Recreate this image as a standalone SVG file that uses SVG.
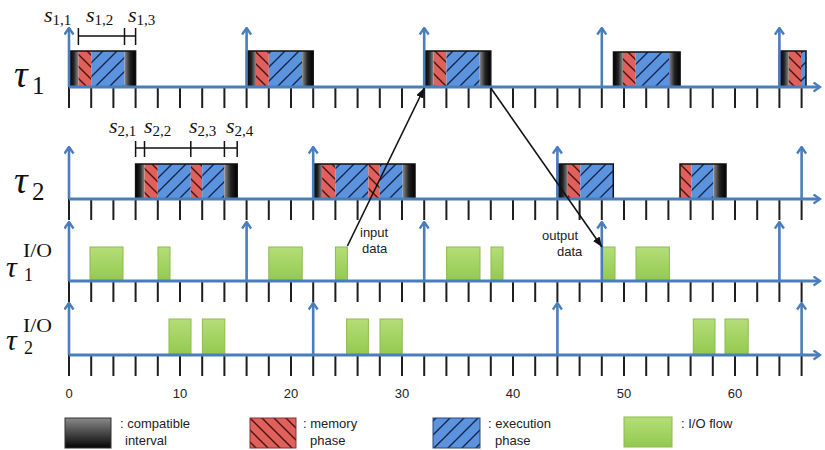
<svg xmlns="http://www.w3.org/2000/svg" width="825" height="450" viewBox="0 0 825 450">
<style>
.axis{stroke:#4a7ebb;stroke-width:3;fill:none}
.rel{stroke:#4a7ebb;stroke-width:2.6;fill:none}
.tk{stroke:#1e1e1e;stroke-width:2;fill:none}
.out{fill:none;stroke:#111;stroke-width:1.5}
.io{fill:url(#gG);stroke:#8cbc4c;stroke-width:1}
.lbl{font-family:"Liberation Sans",Arial,sans-serif;font-size:13px;fill:#222}
.num{font-family:"Liberation Sans",Arial,sans-serif;font-size:13px;fill:#222;text-anchor:middle}
.m{font-family:"Liberation Serif","Times New Roman",serif;fill:#111}
.it{font-style:italic}
.br{stroke:#111;stroke-width:1.5;fill:none}
.con{stroke:#111;stroke-width:1.6;fill:none}
</style>
<defs>
<linearGradient id="gBL" x1="0" y1="0" x2="1" y2="0"><stop offset="0" stop-color="#000"/><stop offset="0.5" stop-color="#222"/><stop offset="1" stop-color="#8a8a8a"/></linearGradient>
<linearGradient id="gBR" x1="0" y1="0" x2="1" y2="0"><stop offset="0" stop-color="#8a8a8a"/><stop offset="0.5" stop-color="#222"/><stop offset="1" stop-color="#000"/></linearGradient>
<linearGradient id="gBV" x1="0" y1="0" x2="0" y2="1"><stop offset="0" stop-color="#8a8a8a"/><stop offset="1" stop-color="#050505"/></linearGradient>
<linearGradient id="gG" x1="0" y1="0" x2="0" y2="1"><stop offset="0" stop-color="#b4de78"/><stop offset="1" stop-color="#93c94f"/></linearGradient>
<pattern id="pR" width="12" height="12" patternUnits="userSpaceOnUse">
<rect width="12" height="12" fill="#e0605c"/>
<path d="M0,0L12,12M-3,9L3,15M9,-3L15,3" stroke="#4a1212" stroke-width="1.4"/>
</pattern>
<pattern id="pB" width="14" height="14" patternUnits="userSpaceOnUse">
<rect width="14" height="14" fill="#5b93de"/>
<path d="M0,14L14,0M-3,3L3,-3M11,17L17,11" stroke="#15264a" stroke-width="1.4"/>
</pattern>
<marker id="ah" viewBox="-1 -1 9 11" refX="6.5" refY="4.5" markerWidth="9" markerHeight="11" markerUnits="userSpaceOnUse" orient="auto">
<path d="M0,0L6.5,4.5L0,9" fill="none" stroke="#4a7ebb" stroke-width="2.4"/>
</marker>
<marker id="bk" viewBox="0 0 10 8" refX="10" refY="4" markerWidth="10" markerHeight="8" markerUnits="userSpaceOnUse" orient="auto">
<path d="M0,0L10,4L0,8z" fill="#111"/>
</marker>
<path id="ticks" class="tk" d="M69,0v21M91.2,0v21M113.4,0v21M135.6,0v21M157.8,0v21M180,0v21M202.2,0v21M224.4,0v21M246.6,0v21M268.8,0v21M291,0v21M313.2,0v21M335.4,0v21M357.6,0v21M379.8,0v21M402,0v21M424.2,0v21M446.4,0v21M468.6,0v21M490.8,0v21M513,0v21M535.2,0v21M557.4,0v21M579.6,0v21M601.8,0v21M624,0v21M646.2,0v21M668.4,0v21M690.6,0v21M712.8,0v21M735,0v21M757.2,0v21M779.4,0v21M801.6,0v21"/>
</defs>
<rect width="825" height="450" fill="#fff"/>

<!-- Row tau1 -->
<g id="row-tau1">
<text class="m it" x="14" y="87" font-size="38">τ</text>
<text class="m" x="32" y="94" font-size="25">1</text>
<use href="#ticks" y="87"/>
<g id="t1-job1">
<rect x="69" y="51" width="9.4" height="36" fill="url(#gBL)"/>
<rect x="78.4" y="51" width="12.8" height="36" fill="url(#pR)"/>
<rect x="91.2" y="51" width="33.3" height="36" fill="url(#pB)"/>
<rect x="124.5" y="51" width="11.1" height="36" fill="url(#gBR)"/>
<rect class="out" x="69" y="51" width="66.6" height="36"/>
</g>
<g id="t1-job2">
<rect x="246.6" y="51" width="9.4" height="36" fill="url(#gBL)"/>
<rect x="256" y="51" width="12.8" height="36" fill="url(#pR)"/>
<rect x="268.8" y="51" width="33.3" height="36" fill="url(#pB)"/>
<rect x="302.1" y="51" width="11.1" height="36" fill="url(#gBR)"/>
<rect class="out" x="246.6" y="51" width="66.6" height="36"/>
</g>
<g id="t1-job3">
<rect x="424.2" y="51" width="9.4" height="36" fill="url(#gBL)"/>
<rect x="433.6" y="51" width="12.8" height="36" fill="url(#pR)"/>
<rect x="446.4" y="51" width="33.3" height="36" fill="url(#pB)"/>
<rect x="479.7" y="51" width="11.1" height="36" fill="url(#gBR)"/>
<rect class="out" x="424.2" y="51" width="66.6" height="36"/>
</g>
<g id="t1-job4">
<rect x="613.5" y="52" width="9.4" height="35" fill="url(#gBL)"/>
<rect x="622.9" y="52" width="12.8" height="35" fill="url(#pR)"/>
<rect x="635.7" y="52" width="33.3" height="35" fill="url(#pB)"/>
<rect x="669" y="52" width="11.1" height="35" fill="url(#gBR)"/>
<rect class="out" x="613.5" y="52" width="66.6" height="35"/>
</g>
<g id="t1-job5">
<rect x="779.4" y="51" width="9.4" height="36" fill="url(#gBL)"/>
<rect x="788.8" y="51" width="12.2" height="36" fill="url(#pR)"/>
<rect x="801" y="51" width="5" height="36" fill="url(#pB)"/>
<rect class="out" x="779.4" y="51" width="26.6" height="36"/>
</g>
<path class="axis" d="M69,87H820" marker-end="url(#ah)"/>
<path class="rel" d="M69,87V28M246.6,87V28M424.2,87V28M601.8,87V28M779.4,87V28" />
<path class="rel" d="M69,30V28" marker-end="url(#ah)"/>
<path class="rel" d="M246.6,30V28" marker-end="url(#ah)"/>
<path class="rel" d="M424.2,30V28" marker-end="url(#ah)"/>
<path class="rel" d="M601.8,30V28" marker-end="url(#ah)"/>
<path class="rel" d="M779.4,30V28" marker-end="url(#ah)"/>
<path class="br" d="M78.4,36H135.6M78.4,28V45M124.5,28V45M135.6,28V45"/>
<text class="m it" x="44" y="22" font-size="22">s<tspan font-style="normal" font-size="15" dy="3">1,1</tspan></text>
<text class="m it" x="86" y="22" font-size="22">s<tspan font-style="normal" font-size="15" dy="3">1,2</tspan></text>
<text class="m it" x="128" y="22" font-size="22">s<tspan font-style="normal" font-size="15" dy="3">1,3</tspan></text>
</g>

<!-- Row tau2 -->
<g id="row-tau2">
<text class="m it" x="14" y="193" font-size="38">τ</text>
<text class="m" x="32" y="200" font-size="25">2</text>
<use href="#ticks" y="199"/>
<g id="t2-job1">
<rect x="135.6" y="164" width="8.9" height="35" fill="url(#gBL)"/>
<rect x="144.5" y="164" width="13.3" height="35" fill="url(#pR)"/>
<rect x="157.8" y="164" width="33" height="35" fill="url(#pB)"/>
<rect x="190.8" y="164" width="11.4" height="35" fill="url(#pR)"/>
<rect x="202.2" y="164" width="22.2" height="35" fill="url(#pB)"/>
<rect x="224.4" y="164" width="12.8" height="35" fill="url(#gBR)"/>
<rect class="out" x="135.6" y="164" width="101.6" height="35"/>
</g>
<g id="t2-job2">
<rect x="313.2" y="164" width="8.9" height="35" fill="url(#gBL)"/>
<rect x="322.1" y="164" width="13.3" height="35" fill="url(#pR)"/>
<rect x="335.4" y="164" width="33" height="35" fill="url(#pB)"/>
<rect x="368.4" y="164" width="11.4" height="35" fill="url(#pR)"/>
<rect x="379.8" y="164" width="22.8" height="35" fill="url(#pB)"/>
<rect x="402.6" y="164" width="12.4" height="35" fill="url(#gBR)"/>
<rect class="out" x="313.2" y="164" width="101.8" height="35"/>
</g>
<g id="t2-job3">
<rect x="557.4" y="164" width="10.5" height="35" fill="url(#gBL)"/>
<rect x="567.9" y="164" width="12.4" height="35" fill="url(#pR)"/>
<rect x="580.3" y="164" width="33" height="35" fill="url(#pB)"/>
<rect class="out" x="557.4" y="164" width="55.9" height="35"/>
</g>
<g id="t2-job4">
<rect x="680" y="164" width="11.5" height="35" fill="url(#pR)"/>
<rect x="691.5" y="164" width="22" height="35" fill="url(#pB)"/>
<rect x="713.5" y="164" width="12.5" height="35" fill="url(#gBR)"/>
<rect class="out" x="680" y="164" width="46" height="35"/>
</g>
<path class="axis" d="M69,199H820" marker-end="url(#ah)"/>
<path class="rel" d="M69,199V147M313.2,199V147M557.4,199V147M801.6,199V147"/>
<path class="rel" d="M69,149V147" marker-end="url(#ah)"/>
<path class="rel" d="M313.2,149V147" marker-end="url(#ah)"/>
<path class="rel" d="M557.4,149V147" marker-end="url(#ah)"/>
<path class="rel" d="M801.6,149V147" marker-end="url(#ah)"/>
<path class="br" d="M135.6,148H237.2M135.6,141V157M144.5,141V157M190.8,141V157M224.4,141V157M237.2,141V157"/>
<text class="m it" x="109" y="133" font-size="22">s<tspan font-style="normal" font-size="15" dy="3">2,1</tspan></text>
<text class="m it" x="144" y="133" font-size="22">s<tspan font-style="normal" font-size="15" dy="3">2,2</tspan></text>
<text class="m it" x="189" y="133" font-size="22">s<tspan font-style="normal" font-size="15" dy="3">2,3</tspan></text>
<text class="m it" x="226" y="133" font-size="22">s<tspan font-style="normal" font-size="15" dy="3">2,4</tspan></text>
</g>

<!-- Row tau1 I/O -->
<g id="row-tau1-io">
<text class="m it" x="6" y="277" font-size="30">τ</text>
<text class="m" x="23" y="257" font-size="18" textLength="29" lengthAdjust="spacingAndGlyphs">I/O</text>
<text class="m" x="24" y="281" font-size="18">1</text>
<use href="#ticks" y="281"/>
<rect class="io" x="90" y="247" width="33" height="34"/>
<rect class="io" x="158" y="247" width="12" height="34"/>
<rect class="io" x="268.8" y="247" width="33.4" height="34"/>
<rect class="io" x="335.4" y="247" width="12" height="34"/>
<rect class="io" x="446.6" y="247" width="33.4" height="34"/>
<rect class="io" x="491" y="247" width="12" height="34"/>
<rect class="io" x="602" y="247" width="13" height="34"/>
<rect class="io" x="636" y="247" width="33.4" height="34"/>
<path class="axis" d="M69,281H820" marker-end="url(#ah)"/>
<path class="rel" d="M69,281V222M246.6,281V222M424.2,281V222M601.8,281V222M779.4,281V222"/>
<path class="rel" d="M69,224V222" marker-end="url(#ah)"/>
<path class="rel" d="M246.6,224V222" marker-end="url(#ah)"/>
<path class="rel" d="M424.2,224V222" marker-end="url(#ah)"/>
<path class="rel" d="M601.8,224V222" marker-end="url(#ah)"/>
<path class="rel" d="M779.4,224V222" marker-end="url(#ah)"/>
</g>

<!-- Row tau2 I/O -->
<g id="row-tau2-io">
<text class="m it" x="6" y="350" font-size="30">τ</text>
<text class="m" x="23" y="332" font-size="18" textLength="29" lengthAdjust="spacingAndGlyphs">I/O</text>
<text class="m" x="24" y="354" font-size="18">2</text>
<use href="#ticks" y="355"/>
<rect class="io" x="169" y="319" width="22" height="36"/>
<rect class="io" x="202.4" y="319" width="22.4" height="36"/>
<rect class="io" x="346.6" y="319" width="21.8" height="36"/>
<rect class="io" x="380" y="319" width="22.2" height="36"/>
<rect class="io" x="693.3" y="319" width="21.7" height="36"/>
<rect class="io" x="725" y="319" width="23.2" height="36"/>
<path class="axis" d="M69,355H820" marker-end="url(#ah)"/>
<path class="rel" d="M69,355V303M313.2,355V303M557.4,355V303M801.6,355V303"/>
<path class="rel" d="M69,305V303" marker-end="url(#ah)"/>
<path class="rel" d="M313.2,305V303" marker-end="url(#ah)"/>
<path class="rel" d="M557.4,305V303" marker-end="url(#ah)"/>
<path class="rel" d="M801.6,305V303" marker-end="url(#ah)"/>
</g>

<!-- Axis numbers -->
<g id="axis-labels">
<text class="num" x="69" y="398">0</text>
<text class="num" x="180" y="398">10</text>
<text class="num" x="291" y="398">20</text>
<text class="num" x="402" y="398">30</text>
<text class="num" x="513" y="398">40</text>
<text class="num" x="624" y="398">50</text>
<text class="num" x="735" y="398">60</text>
</g>

<!-- Connectors -->
<g id="connectors">
<path class="con" d="M347.4,246L424.2,88" marker-end="url(#bk)"/>
<path class="con" d="M490.8,88L602,247" marker-end="url(#bk)"/>
<text class="lbl" x="360" y="237">input</text>
<text class="lbl" x="362" y="253">data</text>
<text class="lbl" x="542" y="240">output</text>
<text class="lbl" x="557" y="256">data</text>
</g>

<!-- Legend -->
<g id="legend">
<g id="leg-compatible">
<rect x="65" y="418" width="46" height="30" fill="url(#gBV)" stroke="#333" stroke-width="1"/>
<text class="lbl" x="120" y="428">: compatible</text>
<text class="lbl" x="125" y="445">interval</text>
</g>
<g id="leg-memory">
<rect x="250" y="418" width="46" height="30" fill="url(#pR)" stroke="#8a3030" stroke-width="1"/>
<text class="lbl" x="303" y="428">: memory</text>
<text class="lbl" x="310" y="445">phase</text>
</g>
<g id="leg-exec">
<rect x="433" y="418" width="47" height="30" fill="url(#pB)" stroke="#2a4a80" stroke-width="1"/>
<text class="lbl" x="488" y="428">: execution</text>
<text class="lbl" x="495" y="445">phase</text>
</g>
<g id="leg-io">
<rect class="io" x="624" y="417" width="48" height="30"/>
<text class="lbl" x="681" y="428">: I/O flow</text>
</g>
</g>
</svg>
